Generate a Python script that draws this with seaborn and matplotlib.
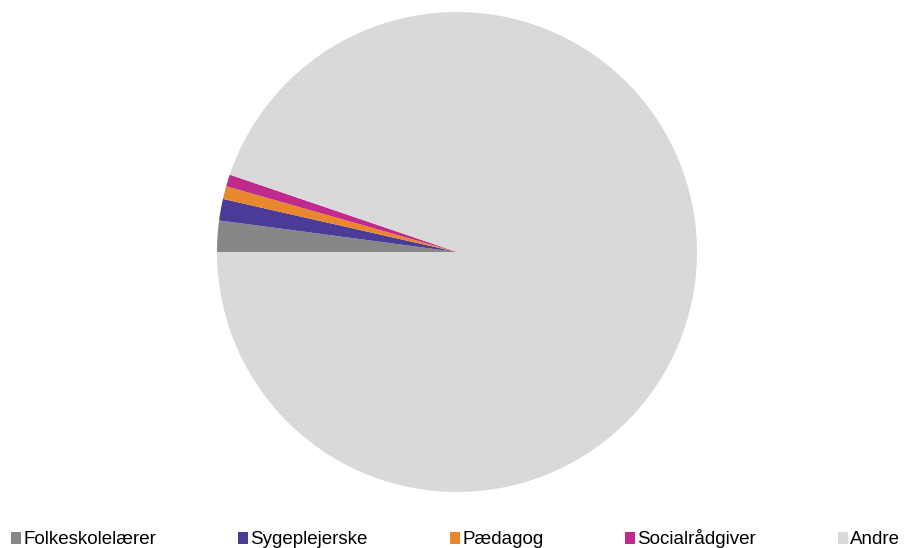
import matplotlib
matplotlib.use("Agg")
import matplotlib.pyplot as plt
import seaborn as sns
from matplotlib.patches import Patch

categories = ["Folkeskolelærer", "Sygeplejerske", "Pædagog", "Socialrådgiver", "Andre"]
values = [2.1, 1.45, 0.87, 0.8, 94.78]
colors = ["#878787", "#4B3A98", "#E8872C", "#BF2A8C", "#D9D9D9"]

sns.set_theme(style="white")
plt.rcParams["font.family"] = ["Liberation Sans", "DejaVu Sans"]

W, H = 913, 548
fig = plt.figure(figsize=(W / 100, H / 100), dpi=100)
cx, cy, r = 457, 252, 240
ax = fig.add_axes([(cx - r) / W, (H - cy - r) / H, 2 * r / W, 2 * r / H])
ax.pie(values, colors=colors, startangle=180, counterclock=False,
       wedgeprops=dict(linewidth=0), radius=1)
ax.set_xlim(-1, 1)
ax.set_ylim(-1, 1)
ax.set_aspect("equal")
ax.axis("off")

handles = [Patch(facecolor=c, edgecolor="none", label=l) for c, l in zip(colors, categories)]
leg = fig.legend(handles=handles, loc="center left", bbox_to_anchor=(11 / W, 9 / H),
                 ncol=5, frameon=False, fontsize=13.5, handlelength=0.55, handleheight=0.55,
                 handletextpad=0.12, columnspacing=4.35, borderpad=0, borderaxespad=0)
for t in leg.get_texts():
    t.set_color("black")

fig.savefig("out.png", dpi=100)
